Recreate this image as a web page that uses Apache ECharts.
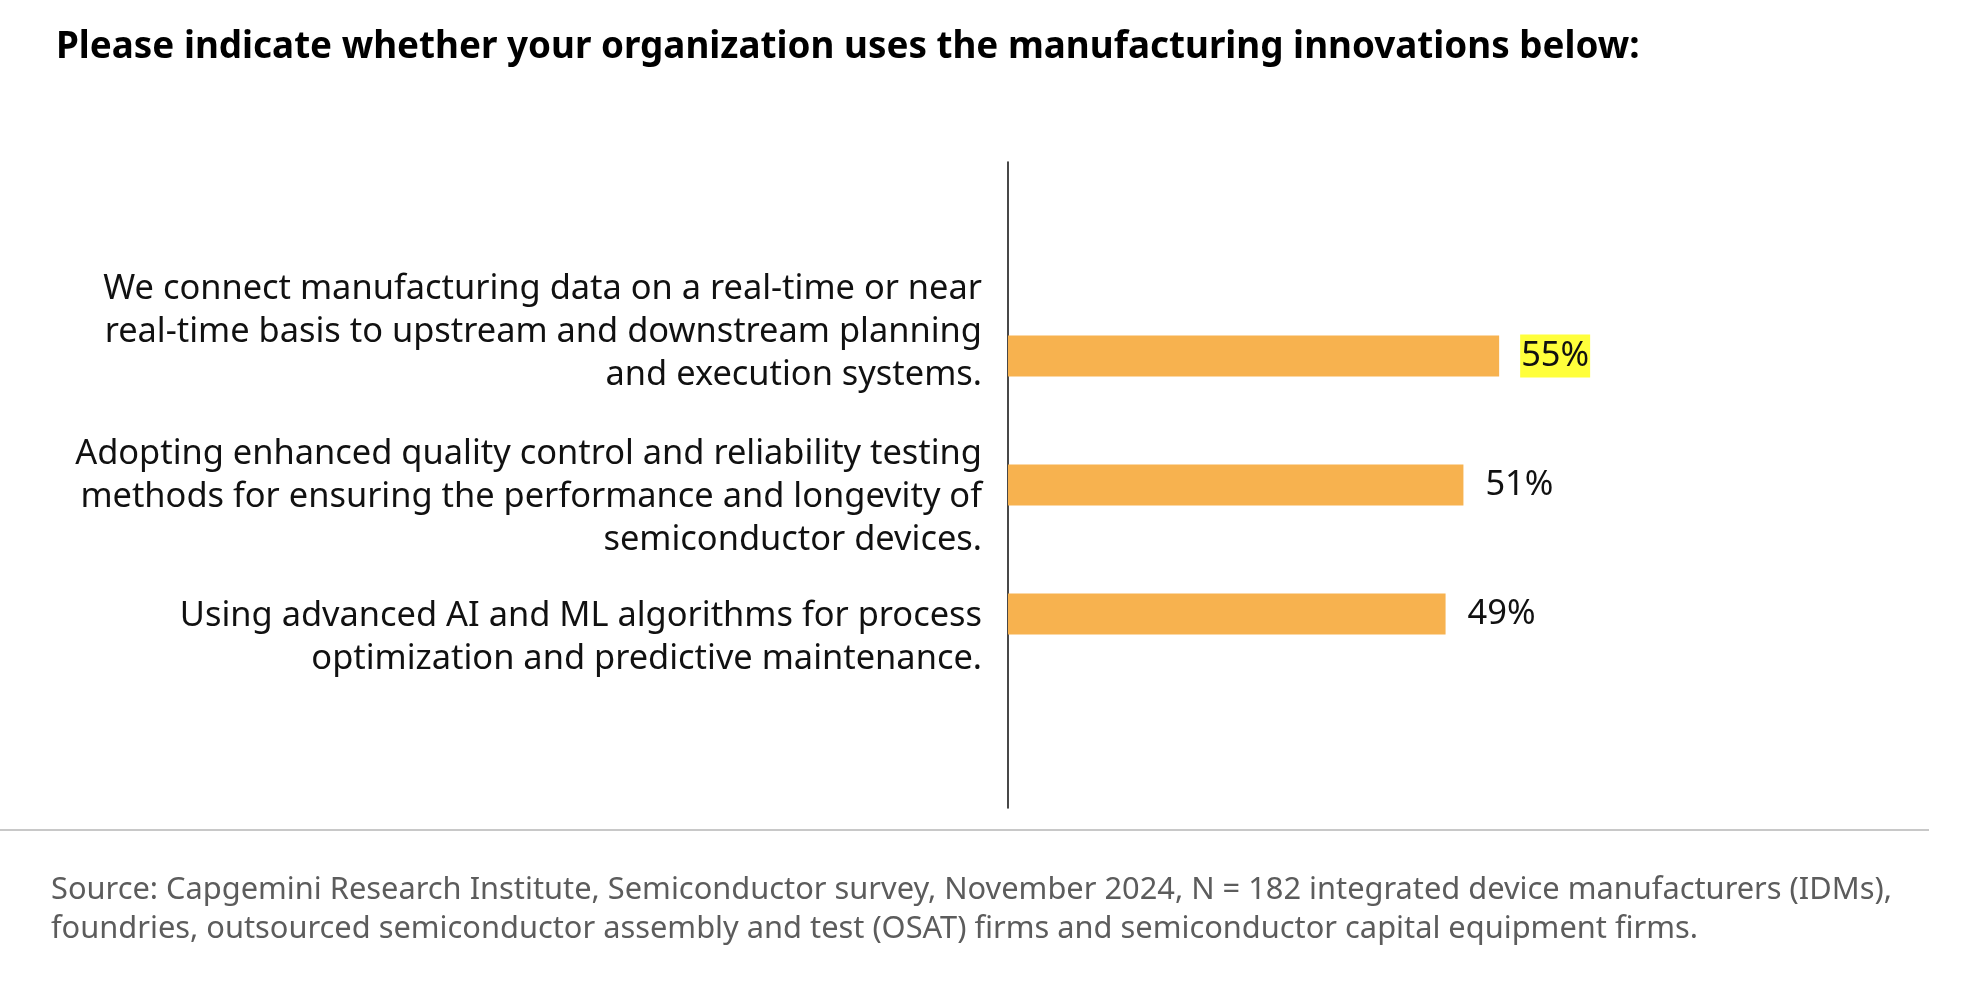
<!DOCTYPE html>
<html>
<head>
<meta charset="utf-8">
<script src="https://cdn.jsdelivr.net/npm/echarts@6/dist/echarts.min.js"></script>
<style>
html,body{margin:0;padding:0;background:#fff;}
#chart{width:1976px;height:994px;}
</style>
</head>
<body>
<div id="chart"></div>
<script>
// ---- data ----
var titleText = 'Please indicate whether your organization uses the manufacturing innovations below:';
var categories = [
  'We connect manufacturing data on a real-time or near\nreal-time basis to upstream and downstream planning\nand execution systems.',
  'Adopting enhanced quality control and reliability testing\nmethods for ensuring the performance and longevity of\nsemiconductor devices.',
  'Using advanced AI and ML algorithms for process\noptimization and predictive maintenance.'
];
var values = [55, 51, 49];
var highlighted = [true, false, false];
var sourceText = 'Source: Capgemini Research Institute, Semiconductor survey, November 2024, N = 182 integrated device manufacturers (IDMs),\nfoundries, outsourced semiconductor assembly and test (OSAT) firms and semiconductor capital equipment firms.';

// ---- layout helpers ----
var FAMILY = 'Noto Sans';
var FONT = "'Noto Sans', 'Open Sans', sans-serif";
var cv = document.createElement('canvas').getContext('2d');
function fit(text, weight, target) {
  cv.font = weight + ' 100px ' + FAMILY;
  return 100 * target / cv.measureText(text).width;
}
var titleSize = fit(titleText, 'bold', 1584);
var catSize = fit('We connect manufacturing data on a real-time or near', 'normal', 879);
var srcSize = fit(sourceText.split('\n')[0], 'normal', 1842);
var valSize = fit('51%', 'normal', 68);
var CAT_LH = 43;

// vertical nudges of the category label blocks (px, + = down)
var labelShift = [-24, 12, 24];
var rich = {
  t: { fontFamily: FONT, fontSize: catSize, lineHeight: CAT_LH, color: '#111' }
};
labelShift.forEach(function (d, i) {
  rich['sp' + i] = { fontSize: 1, lineHeight: Math.max(1, 2 * Math.abs(d)) };
});

var barData = values.map(function (v, i) {
  var item = { value: v };
  if (highlighted[i]) {
    item.label = { backgroundColor: '#FFFF3B', padding: [4, 1, 4, 1], distance: 21 };
  }
  return item;
});

var chart = echarts.init(document.getElementById('chart'), null, { renderer: 'canvas' });
chart.setOption({
  animation: false,
  backgroundColor: '#ffffff',
  title: [
    {
      text: titleText,
      left: 56, padding: 0,
      top: 60 - 0.35 * titleSize - titleSize / 2,
      textStyle: { fontFamily: FONT, fontWeight: 'bold', fontSize: titleSize, lineHeight: titleSize, color: '#000' }
    },
    {
      text: sourceText,
      left: 51, padding: 0,
      top: 901 - 0.35 * srcSize - 19.5,
      textStyle: { fontFamily: FONT, fontWeight: 'normal', fontSize: srcSize, lineHeight: 39, color: '#5c5c5c' }
    }
  ],
  grid: [
    { left: 1008, top: 291.5, width: 893, height: 387, containLabel: false },
    { left: 1008, top: 162, width: 893, height: 646, containLabel: false }
  ],
  xAxis: [
    { type: 'value', gridIndex: 0, min: 0, max: 100, show: false },
    { type: 'value', gridIndex: 1, min: 0, max: 1, show: false }
  ],
  yAxis: [
    {
      type: 'category', gridIndex: 0, inverse: true, data: categories,
      axisLine: { show: false }, axisTick: { show: false }, splitLine: { show: false },
      axisLabel: {
        interval: 0, hideOverlap: false,
        margin: 26, align: 'right', verticalAlign: 'middle',
        fontFamily: FONT, fontSize: catSize, lineHeight: CAT_LH, color: '#111',
        formatter: function (value, idx) {
          var body = value.split('\n').map(function (l) { return '{t|' + l + '}'; }).join('\n');
          var d = labelShift[idx] || 0;
          if (d < 0) return body + '\n{sp' + idx + '|\u00a0}';
          if (d > 0) return '{sp' + idx + '|\u00a0}\n' + body;
          return body;
        },
        rich: rich
      }
    },
    {
      type: 'value', gridIndex: 1, min: 0, max: 1,
      axisLine: { show: true, lineStyle: { color: '#1a1a1a', width: 1.6 } },
      axisTick: { show: false }, axisLabel: { show: false }, splitLine: { show: false }
    }
  ],
  series: [
    {
      type: 'bar', xAxisIndex: 0, yAxisIndex: 0,
      data: barData, barWidth: 41,
      itemStyle: { color: '#F7B24F' },
      label: {
        show: true, position: 'right', distance: 22,
        formatter: '{c}%', fontFamily: FONT, fontSize: valSize, lineHeight: 35, color: '#111'
      }
    }
  ],
  graphic: [
    {
      type: 'line', silent: true,
      shape: { x1: 0, y1: 830, x2: 1929, y2: 830 },
      style: { stroke: '#c8c8c8', lineWidth: 2 }
    }
  ]
});
</script>
</body>
</html>
